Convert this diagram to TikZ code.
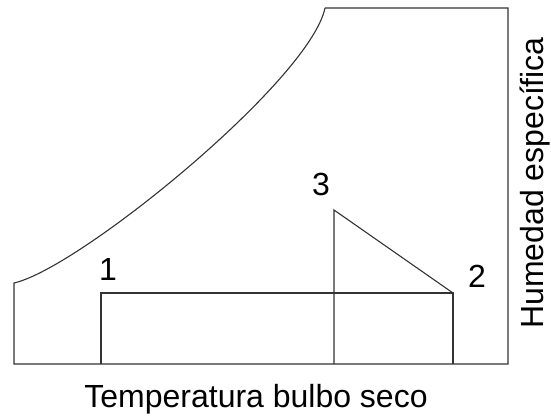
\documentclass[tikz,border=0pt]{standalone}
\usepackage{fontspec}
\setmainfont{Liberation Sans}
\begin{document}
\begin{tikzpicture}[x=1pt,y=-1pt,
  frame/.style={line width=1.1pt,draw=black!80},
  lbl/.style={inner sep=0pt,anchor=base,font=\fontsize{32}{38}\selectfont}]
\useasboundingbox (0,0) rectangle (551,416);
% frame corners
\coordinate (c0) at (14,283);
\coordinate (bl) at (14,364);
\coordinate (br) at (508,364);
\coordinate (tr) at (508,8);
\coordinate (c1) at (325,8);
% process points
\coordinate (p1) at (101,293);
\coordinate (p2) at (453,293);
\coordinate (p3) at (334,210);
\coordinate (p1b) at (101,364);
\coordinate (p2b) at (453,364);
\coordinate (p3b) at (334,364);
% outline with saturation curve
\draw[frame] (c1) -- (tr) -- (br) -- (bl) -- (c0)
  .. controls (80,268) and (310,80) .. (c1);
% processes
\draw[frame] (p1b) -- (p1) -- (p2) -- (p2b);
\draw[frame] (p3b) -- (p3) -- (p2);
% labels
\node[lbl] (l1) at (108,280) {1};
\node[lbl] (l2) at (477,287) {2};
\node[lbl] (l3) at (321,195) {3};
\node[lbl] (xl) at (256,407) {Temperatura bulbo seco};
\node[lbl,rotate=90] (yl) at (543,183) {Humedad específica};
\end{tikzpicture}
\end{document}
